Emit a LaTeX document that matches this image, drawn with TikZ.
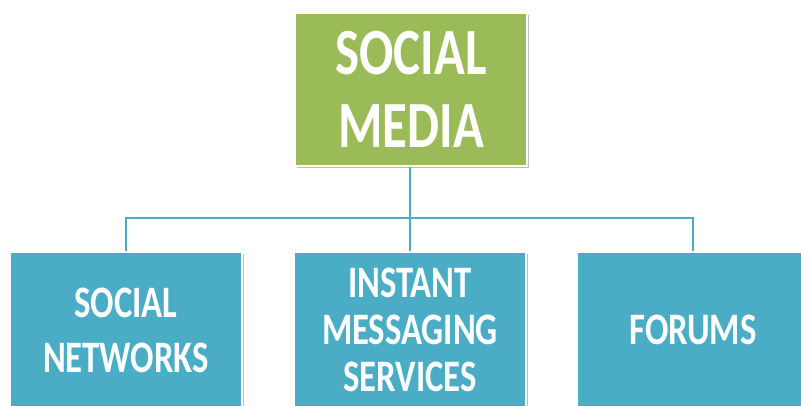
\documentclass[tikz,border=0pt]{standalone}
\usepackage{fontspec}
\setmainfont{Carlito}[FakeStretch=0.77]
\usetikzlibrary{%
        positioning,
        shadows
    }
\definecolor{mediagreen}{RGB}{155, 187, 89}
\definecolor{channelblue}{RGB}{75, 172, 198}
\tikzset{%
    box/.style={draw=white, line width=2pt, text=white, align=center,
        font=\bfseries, inner sep=0pt, minimum width=232pt,
        drop shadow={shadow xshift=1.5pt, shadow yshift=-1.5pt,
            opacity=0.25, fill=black}},
    topbox/.style={box, fill=mediagreen, minimum height=153pt},
    channel/.style={box, fill=channelblue, minimum height=156pt},
    link/.style={draw=channelblue, line width=1.8pt}
}

\begin{document}
\begin{tikzpicture}[x=1pt, y=1pt]

    \useasboundingbox (0, 0) rectangle (801, -405);
    \clip (0, 0) rectangle (801, -405);

    \node[topbox, font=\bfseries\fontsize{66}{73}\selectfont]
        (media) at (411, -89.5) {SOCIAL\\MEDIA};

    \node[channel, font=\bfseries\fontsize{45}{55}\selectfont]
        (networks) at (126, -330) {SOCIAL\\NETWORKS};
    \node[channel, font=\bfseries\fontsize{45}{47}\selectfont]
        (messaging) at (410, -330) {INSTANT\\MESSAGING\\SERVICES};
    \node[channel, font=\bfseries\fontsize{45}{47}\selectfont]
        (forums) at (693, -330) {FORUMS};

    \coordinate (bus) at (0, -218);

    \draw[link] (media.south -| messaging.north) -- (messaging.north);
    \draw[link] (networks.north) |- (bus -| messaging.north) -| (forums.north);

\end{tikzpicture}
\end{document}
